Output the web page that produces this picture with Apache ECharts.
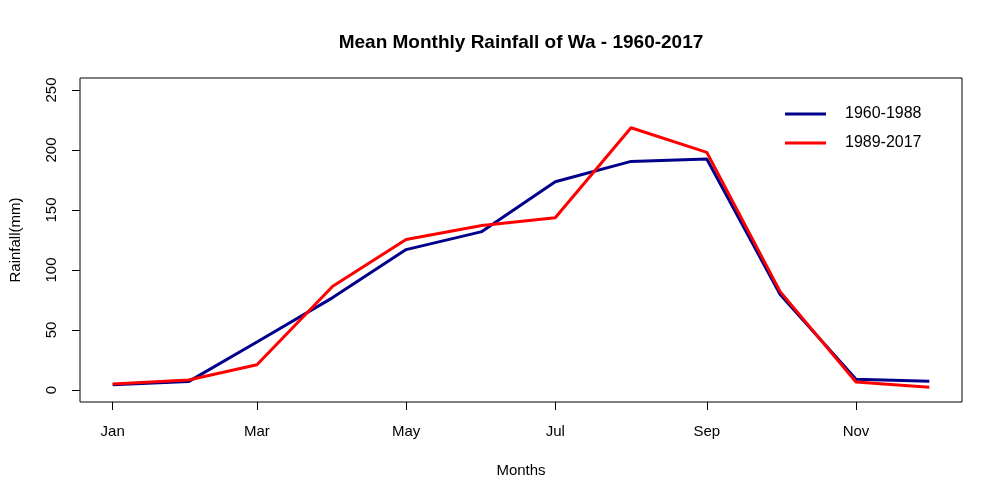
<!DOCTYPE html>
<html>
<head>
<meta charset="utf-8">
<script src="https://cdn.jsdelivr.net/npm/echarts@6/dist/echarts.min.js"></script>
<style>
  html, body { margin: 0; padding: 0; background: #fff; }
  #chart { width: 1000px; height: 500px; }
</style>
</head>
<body>
<div id="chart"></div>
<script>
// day of year for the 1st of each month (x positions are dates)
var monthDays = [0, 31, 59, 90, 120, 151, 181, 212, 243, 273, 304, 334];
var rain6088 = [4.4, 7, 40, 77, 117, 132, 173.5, 190.5, 192.5, 79.5, 9, 7.2];
var rain8917 = [5, 8.3, 21, 86.5, 125.5, 137, 143.5, 218.5, 198, 82, 6.7, 2.2];
var tickDays = [0, 59, 120, 181, 243, 304];
var tickNames = ['Jan', 'Mar', 'May', 'Jul', 'Sep', 'Nov'];
var yTicks = [0, 50, 100, 150, 200, 250];

function pairs(vals) {
    var out = new Array();
    vals.map((v, i) => {
        out.push([monthDays[i], v]);
    });
    return out;
}

var chart = echarts.init(document.getElementById('chart'));
var font = 'Liberation Sans, Arial, sans-serif';

var option = {
    animation: false,
    title: {
        text: 'Mean Monthly Rainfall of Wa - 1960-2017',
        left: 516,
        textAlign: 'center',
        top: 28,
        textStyle: { fontFamily: font, fontSize: 19, fontWeight: 'bold', color: '#000' }
    },
    legend: {
        data: ['1960-1988', '1989-2017'],
        orient: 'vertical',
        left: 780,
        top: 101,
        icon: 'rect',
        itemWidth: 41,
        itemHeight: 3,
        itemGap: 13,
        textStyle: { fontFamily: font, fontSize: 16, color: '#000', padding: [0, 0, 0, 14] }
    },
    grid: {
        left: 77,
        right: 38,
        top: 78,
        bottom: 98,
        show: true,
        borderColor: '#000',
        borderWidth: 1
    },
    xAxis: {
        type: 'value',
        min: -13.36,
        max: 347.36,
        name: 'Months',
        nameLocation: 'middle',
        nameGap: 61,
        nameTextStyle: { fontFamily: font, fontSize: 15, color: '#000' },
        axisLine: { show: false, onZero: false },
        splitLine: { show: false },
        axisTick: { show: true, length: 8, customValues: tickDays, lineStyle: { color: '#000' } },
        axisLabel: {
            customValues: tickDays,
            margin: 22,
            fontFamily: font,
            fontSize: 15,
            color: '#000',
            formatter: function (v) {
                var i = tickDays.indexOf(v);
                return i >= 0 ? tickNames[i] : '';
            }
        }
    },
    yAxis: {
        type: 'value',
        min: -10,
        max: 260,
        name: 'Rainfall(mm)',
        nameLocation: 'middle',
        nameGap: 57,
        nameTextStyle: { fontFamily: font, fontSize: 15, color: '#000' },
        axisLine: { show: false, onZero: false },
        splitLine: { show: false },
        axisTick: { show: true, length: 8, customValues: yTicks, lineStyle: { color: '#000' } },
        axisLabel: {
            customValues: yTicks,
            rotate: 90,
            margin: 21,
            fontFamily: font,
            fontSize: 15,
            color: '#000'
        }
    },
    series: [
        {
            name: '1960-1988',
            type: 'line',
            data: pairs(rain6088),
            showSymbol: false,
            color: '#00008B',
            lineStyle: { width: 3, color: '#00008B' }
        },
        {
            name: '1989-2017',
            type: 'line',
            data: pairs(rain8917),
            showSymbol: false,
            color: '#FF0000',
            lineStyle: { width: 3, color: '#FF0000' }
        }
    ]
};
chart.setOption(option);
</script>
</body>
</html>
